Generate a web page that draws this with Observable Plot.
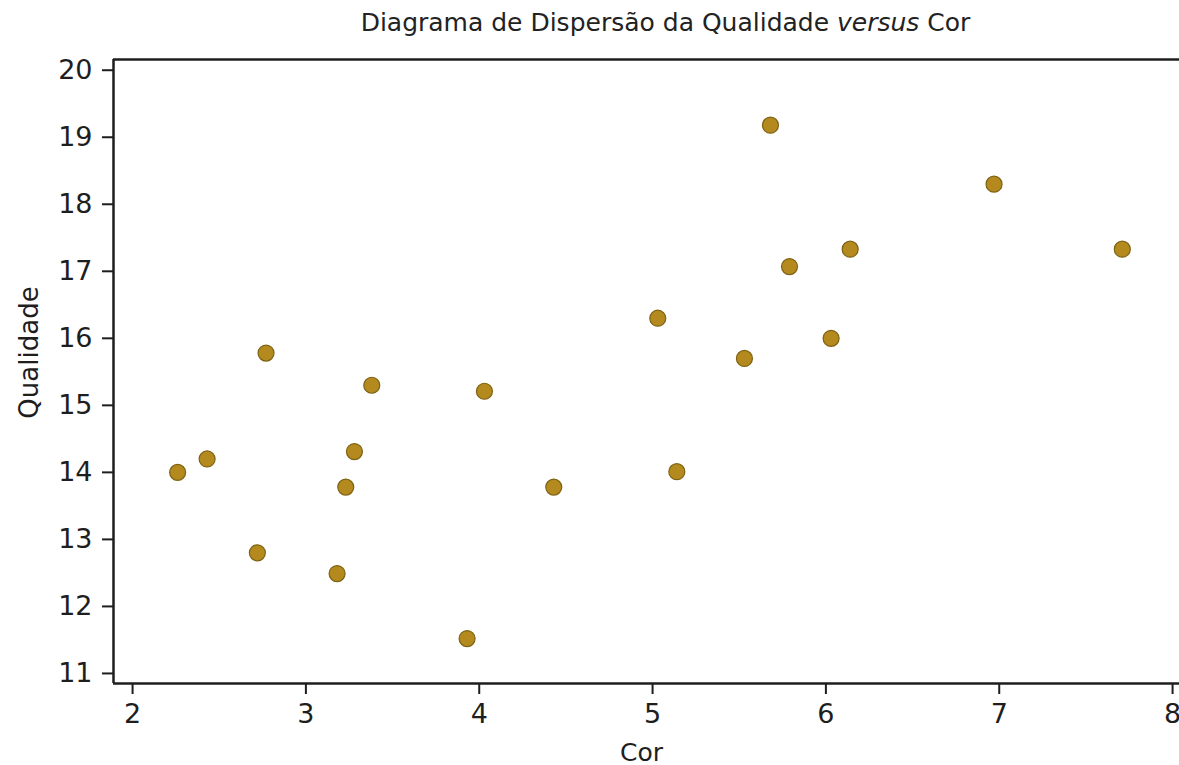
<!DOCTYPE html>
<html><head><meta charset="utf-8">
<script src="https://cdn.jsdelivr.net/npm/d3@7"></script>
<script src="https://cdn.jsdelivr.net/npm/@observablehq/plot@0.6"></script>
<style>
body{margin:0;background:#fff;font-family:"DejaVu Sans",sans-serif;}
#title{width:1179px;height:50px;box-sizing:border-box;padding-top:8px;padding-left:152px;text-align:center;font-size:25px;line-height:30px;color:#222;}
</style></head>
<body>
<div id="title">Diagrama de Dispersão da Qualidade <i>versus</i> Cor</div>
<div id="chart"></div>
<script>
const cor = [2.26,2.43,2.72,2.77,3.18,3.23,3.28,3.38,3.93,4.03,4.43,5.03,5.14,5.53,5.68,5.79,6.03,6.14,6.97,7.71];
const qualidade = [14.0,14.2,12.8,15.78,12.49,13.78,14.31,15.3,11.52,15.21,13.78,16.3,14.01,15.7,19.18,17.07,16.0,17.33,18.3,17.33];
const xTicks = [2,3,4,5,6,7,8];
const yTicks = [11,12,13,14,15,16,17,18,19,20];
const xDomain = [1.89, 8.04];
const yDomain = [10.85, 20.16];

const data = cor.map((c,i)=>({cor:c, qualidade:qualidade[i]}));
const ink = "#1e1e1e";
const chart = Plot.plot({
  width:1179, height:715,
  marginLeft:113, marginRight:0, marginTop:9, marginBottom:82,
  style:{fontFamily:"DejaVu Sans, sans-serif", color:ink, background:"#fff", fontSize:"27px"},
  x:{domain:xDomain},
  y:{domain:yDomain},
  marks:[
    Plot.axisX({ticks:xTicks, tickFormat:d3.format("d"), tickSize:11, tickPadding:9, fontSize:27, label:null, stroke:ink, strokeWidth:2}),
    Plot.axisY({ticks:yTicks, tickFormat:d3.format("d"), tickSize:11, tickPadding:10, fontSize:27, label:null, stroke:ink, strokeWidth:2}),
    Plot.ruleX([xDomain[0]], {stroke:ink, strokeWidth:2.5}),
    Plot.ruleY([yDomain[0], yDomain[1]], {stroke:ink, strokeWidth:2.5}),
    Plot.text(["Cor"], {frameAnchor:"bottom", textAnchor:"middle", dx:-5, dy:77, fontSize:25, fill:ink}),
    Plot.text(["Qualidade"], {frameAnchor:"left", textAnchor:"middle", dx:-84, dy:-19, rotate:-90, fontSize:26, fill:ink}),
    Plot.dot(data, {x:"cor", y:"qualidade", r:8, fill:"#b48a1e", stroke:"#7d6212", strokeWidth:1.2})
  ]
});
document.getElementById("chart").appendChild(chart);
</script>
</body></html>
